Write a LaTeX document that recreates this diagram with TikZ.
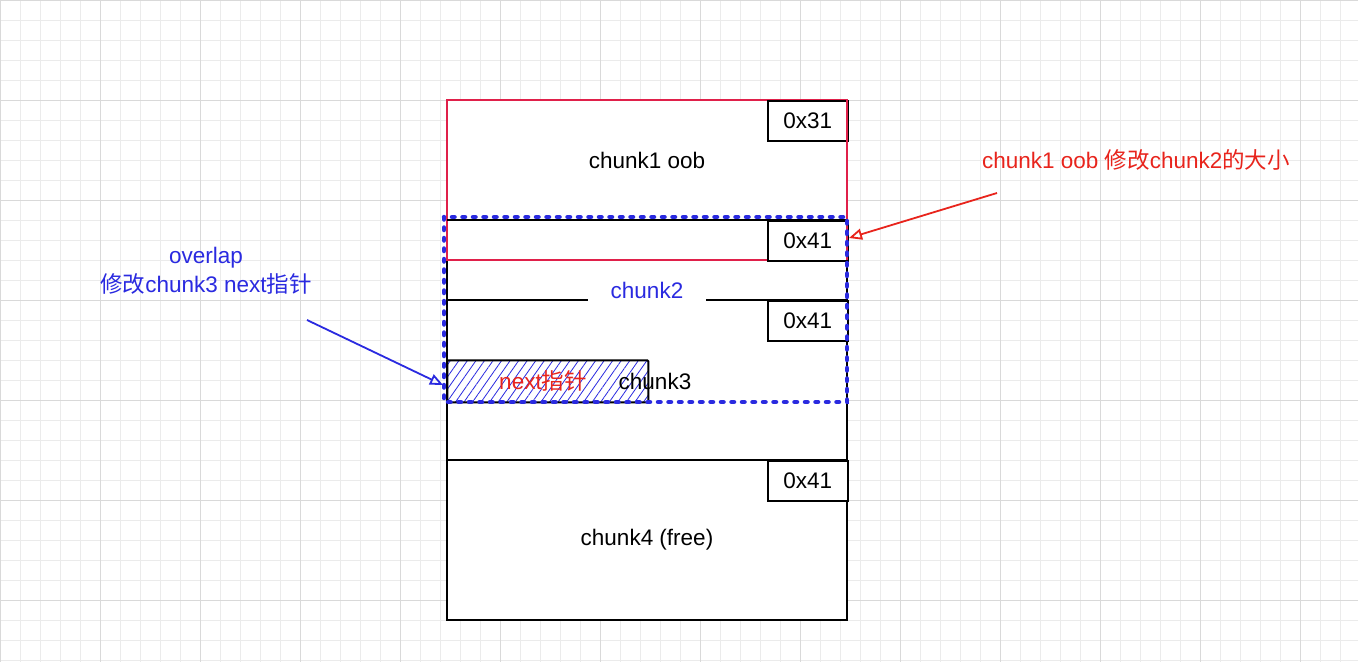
\documentclass[tikz,border=0pt]{standalone}
\usepackage{fontspec}
\setmainfont{Liberation Sans}
\newfontfamily\cjk{Noto Sans CJK SC}
\usetikzlibrary{patterns.meta,arrows.meta}
\definecolor{myred}{HTML}{E8241C}
\definecolor{myblue}{HTML}{2A2AE0}
\definecolor{pinkred}{HTML}{E0204A}
\begin{document}
\begin{tikzpicture}[x=1pt,y=-1pt,font=\fontsize{22.5}{26}\selectfont,
  box/.style={draw=black,line width=1.5pt,fill=white,minimum width=80pt,minimum height=40pt,inner sep=0pt,anchor=north west},
  lbl/.style={inner sep=0pt}]
\useasboundingbox (0,0) rectangle (1358,662);
\fill[white] (0,0) rectangle (1358,662);
\foreach \i in {0,20,...,1358} \draw[black!8,line width=0.6pt] (\i,0) -- (\i,662);
\foreach \j in {0,20,...,662} \draw[black!8,line width=0.6pt] (0,\j) -- (1358,\j);
\foreach \i in {0,100,...,1358} \draw[black!15,line width=0.8pt] (\i,0) -- (\i,662);
\foreach \j in {0,100,...,662} \draw[black!15,line width=0.8pt] (0,\j) -- (1358,\j);
% main chunks
\draw[line width=1.5pt,fill=white] (447,220) rectangle (847,620);
\draw[line width=1.5pt] (447,300) -- (847,300);
\draw[line width=1.5pt] (447,460) -- (847,460);
\draw[pinkred,line width=1.5pt,fill=white] (447,100) rectangle (847,260);
\draw[line width=1.5pt] (447,220) -- (847,220);
\node[box] (b1) at (767,100) {0x31};
\node[box] (b2) at (767,220) {0x41};
\node[box] (b3) at (767,300) {0x41};
\node[box] (b4) at (767,460) {0x41};
\draw[pinkred,line width=1.5pt] (847,100) -- (847,260);
\node[lbl] (c1) at (647,160) {chunk1 oob};
\node[lbl,fill=white,text=myblue,minimum width=118pt,minimum height=26pt] (c2) at (647,290) {chunk2};
\node[lbl] (c4) at (647,540) {chunk4 (free)};
% hatched
\node[draw=black,line width=2pt,rounded corners=1pt,pattern={Lines[angle=55,distance=7pt,line width=0.8pt]},pattern color=myblue,minimum width=201pt,minimum height=42pt,inner sep=0pt,anchor=north west] (h) at (447,360) {};
\node[lbl,text=myred] (nx) at (543,381) {next{\cjk 指针}};
\node[lbl] (c3) at (655,381) {chunk3};
% dotted overlap
\draw[myblue,line width=4.5pt,dash pattern=on 2.5pt off 8pt,line cap=round] (444,217) rectangle (847,402);
% annotations
\node[lbl,text=myred] (t1) at (1136,160) {chunk1 oob {\cjk 修改}chunk2{\cjk 的大小}};
\node[lbl,text=myblue,align=center] (t2) at (206,271) {overlap\\[3pt]{\cjk 修改}chunk3 next{\cjk 指针}};
\coordinate (r0) at (997,193);
\coordinate (r1) at (849,238);
\coordinate (u0) at (307,320);
\coordinate (u1) at (443,385);
\draw[myred,line width=1.8pt,-{Triangle[open,length=13pt,width=11pt]}] (r0) -- (r1);
\draw[myblue,line width=1.8pt,-{Triangle[open,length=13pt,width=11pt]}] (u0) -- (u1);
\end{tikzpicture}
\end{document}
